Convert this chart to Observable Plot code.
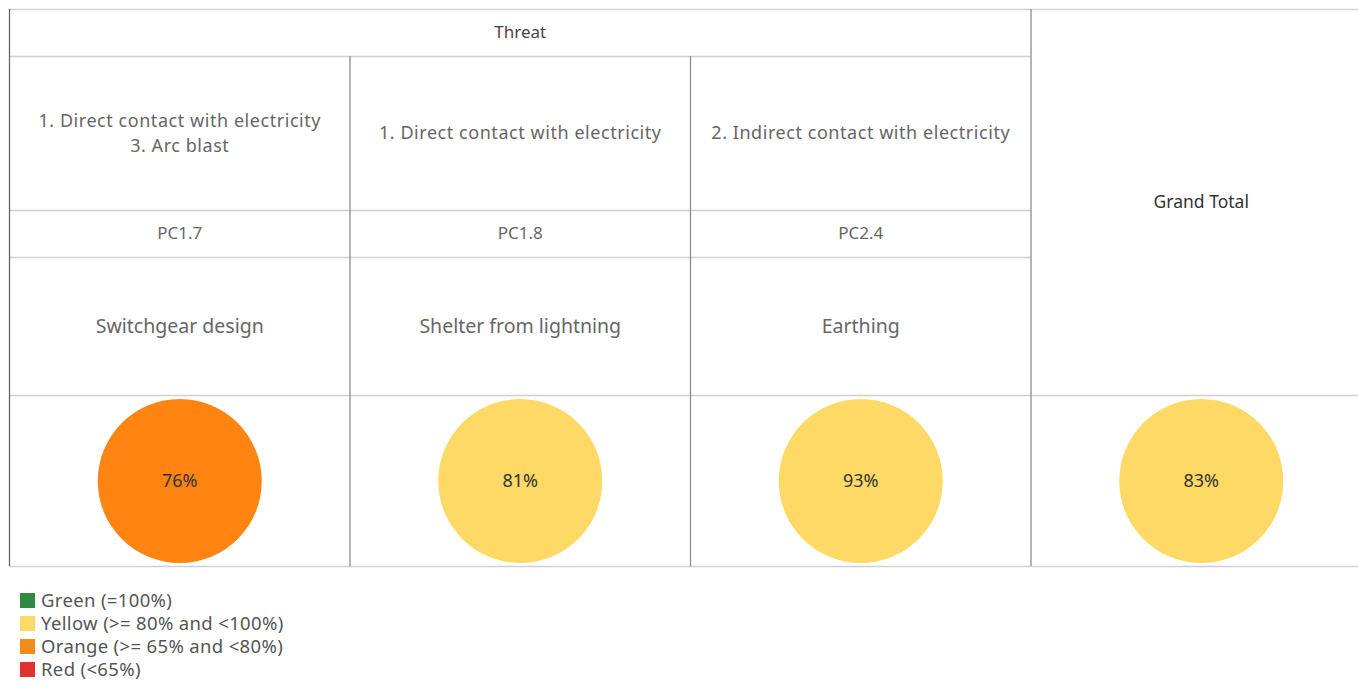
<!DOCTYPE html>
<html>
<head>
<meta charset="utf-8">
<script src="https://cdn.jsdelivr.net/npm/d3@7"></script>
<script src="https://cdn.jsdelivr.net/npm/@observablehq/plot@0.6"></script>
<style>
  html, body { margin: 0; padding: 0; background: #fff; }
  body { font-family: "Noto Sans", "Open Sans", sans-serif; }
  #chart svg { display: block; }
  #chart .threat text { letter-spacing: 0.55px; }
  #legend { margin: 8.5px 0 0 20px; font-size: 18.5px; color: #555; letter-spacing: 0.35px; }
  #legend .item { display: flex; align-items: center; height: 23px; }
  #legend .sw { width: 15px; height: 15px; margin-right: 6px; display: inline-block; }
  #legend .lbl { display: inline-block; line-height: 18px; height: 18px; }
</style>
</head>
<body>
<div id="chart"></div>
<div id="legend"></div>
<script>
// ---- data ----
const headerTitle = "Threat";
const threatsLine1 = ["1. Direct contact with electricity", "1. Direct contact with electricity", "2. Indirect contact with electricity"];
const threatsLine2 = ["3. Arc blast", "", ""];
const codes = ["PC1.7", "PC1.8", "PC2.4"];
const controls = ["Switchgear design", "Shelter from lightning", "Earthing"];
const scores = [0.76, 0.81, 0.93];
const grandTotalLabel = "Grand Total";
const grandTotal = 0.83;
const legendLabels = ["Green (=100%)", "Yellow (>= 80% and <100%)", "Orange (>= 65% and <80%)", "Red (<65%)"];
const legendColors = ["#2e8b3e", "#ffd966", "#f08c1a", "#e03131"];
const thresholds = [0.65, 0.80, 1.0];
const bandColors = ["#e03131", "#ff8412", "#ffd966", "#2e8b3e"];

// ---- layout ----
const W = 1358, H = 580;
const rowY = [9, 56, 210, 257, 395, 566]; // row boundaries in px
const ncol = 4;

const cells = scores.map((v, i) => ({col: i + 0.5, v})).concat([{col: 3.5, v: grandTotal}]);
const circY = (rowY[4] + rowY[5]) / 2;
const threatMid = (rowY[1] + rowY[2]) / 2;

const hLines = [
  {x1: 0, x2: 4.2, y: rowY[0]},
  {x1: 0, x2: 3, y: rowY[1]},
  {x1: 0, x2: 3, y: rowY[2]},
  {x1: 0, x2: 3, y: rowY[3]},
  {x1: 0, x2: 4.2, y: rowY[4]},
  {x1: 0, x2: 4.2, y: rowY[5]}
];
const vLines = [
  {x: 0, y1: rowY[0], y2: rowY[5], c: "#666"},
  {x: 1, y1: rowY[1], y2: rowY[5], c: "#8c8c8c"},
  {x: 2, y1: rowY[1], y2: rowY[5], c: "#8c8c8c"},
  {x: 3, y1: rowY[0], y2: rowY[5], c: "#8c8c8c"}
];

const fmt = d3.format(".0%");
const hasTwo = i => threatsLine2[i] !== "";

const chart = Plot.plot({
  width: W, height: H,
  margin: 0,
  x: {domain: [0, ncol], range: [9, 1371], axis: null},
  y: {domain: [0, H], range: [0, H], axis: null},
  color: {type: "threshold", domain: thresholds, range: bandColors},
  style: {fontFamily: "'Noto Sans', 'Open Sans', sans-serif", background: "#fff"},
  marks: [
    Plot.ruleY(hLines, {x1: "x1", x2: "x2", y: "y", stroke: "#cfcfcf", strokeWidth: 1.3}),
    Plot.ruleX(vLines, {x: "x", y1: "y1", y2: "y2", stroke: "c", strokeWidth: 1.3}),
    Plot.text([headerTitle], {x: 1.5, y: (rowY[0] + rowY[1]) / 2, text: d => d, fontSize: 17, fill: "#444"}),
    Plot.text(threatsLine1, {x: (d, i) => i + 0.5, y: (d, i) => hasTwo(i) ? threatMid - 12.5 : threatMid, text: d => d, fontSize: 18, fill: "#666", className: "threat"}),
    Plot.text(threatsLine2.filter(d => d !== ""), {x: d => threatsLine2.indexOf(d) + 0.5, y: threatMid + 12.5, text: d => d, fontSize: 18, fill: "#666", className: "threat"}),
    Plot.text(codes, {x: (d, i) => i + 0.5, y: (rowY[2] + rowY[3]) / 2, text: d => d, fontSize: 17, fill: "#666"}),
    Plot.text(controls, {x: (d, i) => i + 0.5, y: (rowY[3] + rowY[4]) / 2, text: d => d, fontSize: 19.5, fill: "#666"}),
    Plot.text([grandTotalLabel], {x: 3.5, y: (rowY[0] + rowY[4]) / 2, text: d => d, fontSize: 17.5, fill: "#333"}),
    Plot.dot(cells, {x: "col", y: circY, r: 82, fill: "v", stroke: null}),
    Plot.text(cells, {x: "col", y: circY, text: d => fmt(d.v), fontSize: 18, fill: "#333"})
  ]
});
document.getElementById("chart").appendChild(chart);

const legend = d3.select("#legend");
legendLabels.forEach((l, i) => {
  const it = legend.append("div").attr("class", "item");
  it.append("span").attr("class", "sw").style("background", legendColors[i]);
  it.append("span").attr("class", "lbl").text(l);
});
</script>
</body>
</html>
